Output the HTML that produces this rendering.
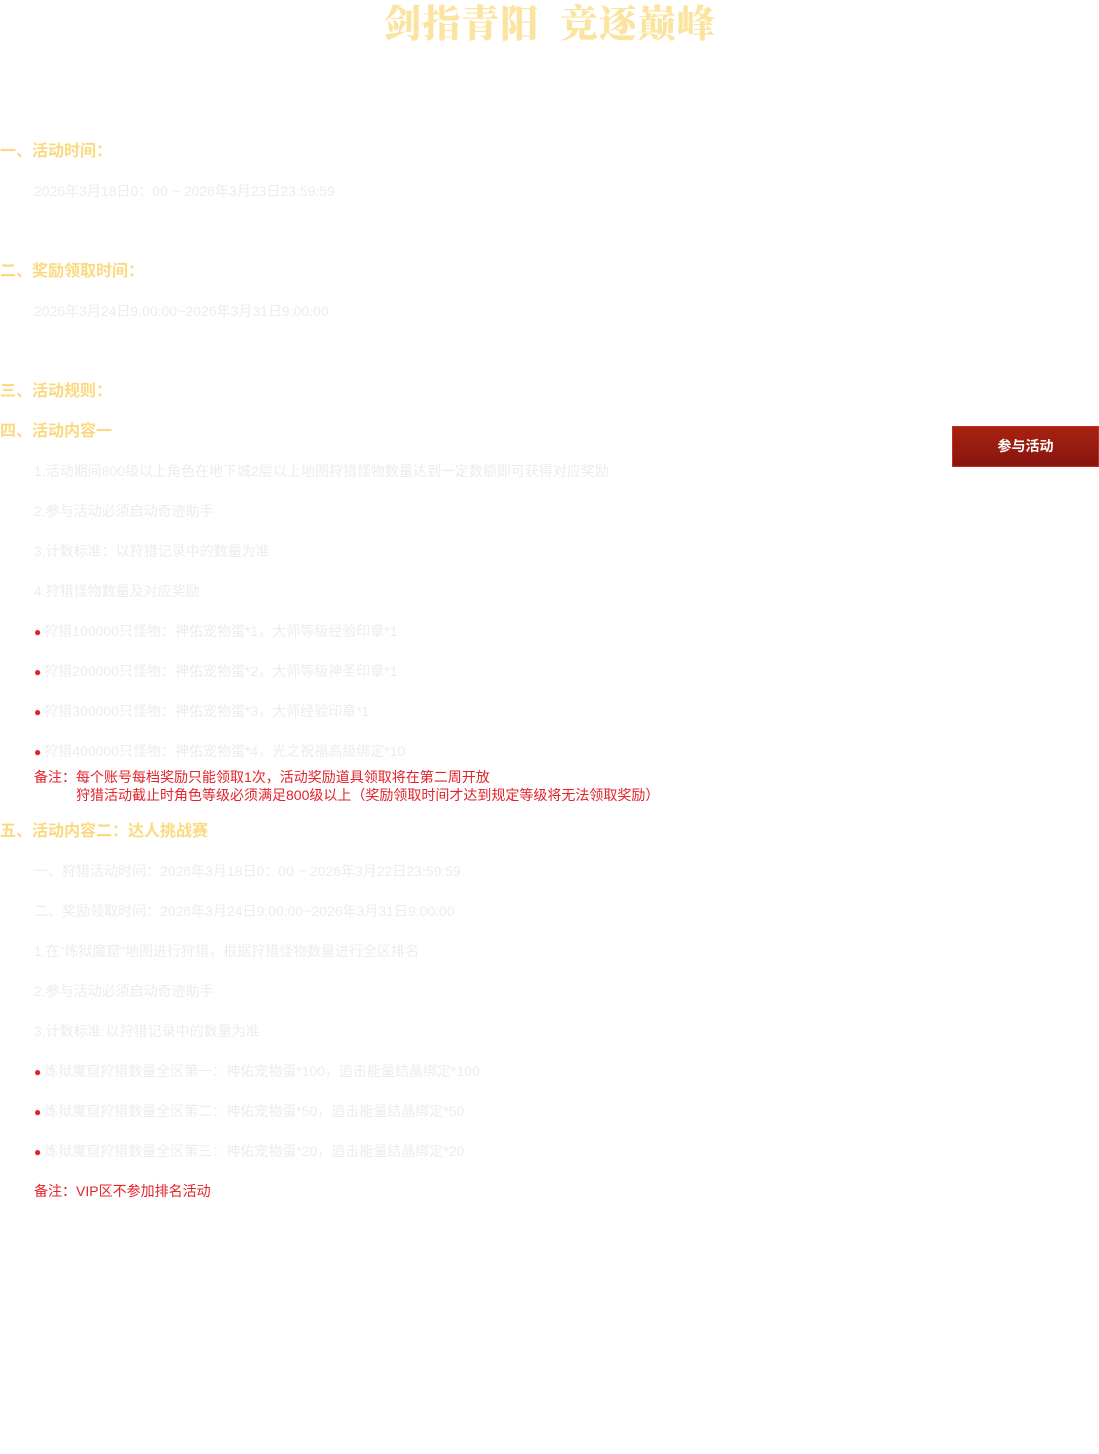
<!DOCTYPE html>
<html><head><meta charset="utf-8"><style>
body{margin:0;width:1099px;height:1454px;background:#fff;position:relative;overflow:hidden;font-family:"Liberation Sans","Noto Sans CJK SC",sans-serif}
.t{position:absolute;line-height:20px;white-space:nowrap}
.h{left:0;font-size:16px;font-weight:bold;color:#fbd97f}
.b{left:34px;font-size:14px;color:#ececec}
.r{font-size:14px;color:#e3232a}
.dot{color:#e3232a;font-size:12px;margin-right:3px}
.title{position:absolute;top:0;left:0;width:1099px;text-align:center;font-family:"Noto Serif CJK SC",serif;font-weight:900;font-size:38px;line-height:42px;color:#fbe3a0;letter-spacing:1px}
.btn{position:absolute;left:952px;top:426px;width:147px;height:41px;background:linear-gradient(#a82210,#871510);border:1px solid #c2301a;box-sizing:border-box;color:#fff;font-weight:bold;font-size:14px;text-align:center;line-height:39px}
</style></head><body>
<div class="title">剑指青阳&nbsp;&nbsp;竞逐巅峰</div>
<div class="t h" style="top:142px">一、活动时间：</div>
<div class="t b" style="top:181px">2026年3月18日0：00 ~ 2026年3月23日23:59:59</div>
<div class="t h" style="top:262px">二、奖励领取时间：</div>
<div class="t b" style="top:301px">2026年3月24日9:00:00~2026年3月31日9:00:00</div>
<div class="t h" style="top:382px">三、活动规则：</div>
<div class="t h" style="top:422px">四、活动内容一</div>
<div class="t b" style="top:461px">1.活动期间800级以上角色在地下城2层以上地图狩猎怪物数量达到一定数额即可获得对应奖励</div>
<div class="t b" style="top:501px">2.参与活动必须启动奇迹助手</div>
<div class="t b" style="top:541px">3.计数标准：以狩猎记录中的数量为准</div>
<div class="t b" style="top:581px">4.狩猎怪物数量及对应奖励</div>
<div class="t b" style="top:621px"><span class="dot">●</span>狩猎100000只怪物：神佑宠物蛋*1，大师等级经验印章*1</div>
<div class="t b" style="top:661px"><span class="dot">●</span>狩猎200000只怪物：神佑宠物蛋*2，大师等级神圣印章*1</div>
<div class="t b" style="top:701px"><span class="dot">●</span>狩猎300000只怪物：神佑宠物蛋*3，大师经验印章*1</div>
<div class="t b" style="top:741px"><span class="dot">●</span>狩猎400000只怪物：神佑宠物蛋*4，光之祝福高级绑定*10</div>
<div class="t r" style="left:34px;top:768px;line-height:18px">备注：每个账号每档奖励只能领取1次，活动奖励道具领取将在第二周开放<br><span style="padding-left:42px">狩猎活动截止时角色等级必须满足800级以上（奖励领取时间才达到规定等级将无法领取奖励）</span></div>
<div class="t h" style="top:822px">五、活动内容二：达人挑战赛</div>
<div class="t b" style="top:861px">一、狩猎活动时间：2026年3月18日0：00 ~ 2026年3月22日23:59:59</div>
<div class="t b" style="top:901px">二、奖励领取时间：2026年3月24日9:00:00~2026年3月31日9:00:00</div>
<div class="t b" style="top:941px">1.在“炼狱魔窟”地图进行狩猎，根据狩猎怪物数量进行全区排名</div>
<div class="t b" style="top:981px">2.参与活动必须启动奇迹助手</div>
<div class="t b" style="top:1021px">3.计数标准:以狩猎记录中的数量为准</div>
<div class="t b" style="top:1061px"><span class="dot">●</span>炼狱魔窟狩猎数量全区第一：神佑宠物蛋*100，追击能量结晶绑定*100</div>
<div class="t b" style="top:1101px"><span class="dot">●</span>炼狱魔窟狩猎数量全区第二：神佑宠物蛋*50，追击能量结晶绑定*50</div>
<div class="t b" style="top:1141px"><span class="dot">●</span>炼狱魔窟狩猎数量全区第三：神佑宠物蛋*20，追击能量结晶绑定*20</div>
<div class="t r" style="left:34px;top:1181px">备注：VIP区不参加排名活动</div>
<div class="btn">参与活动</div>
</body></html>
